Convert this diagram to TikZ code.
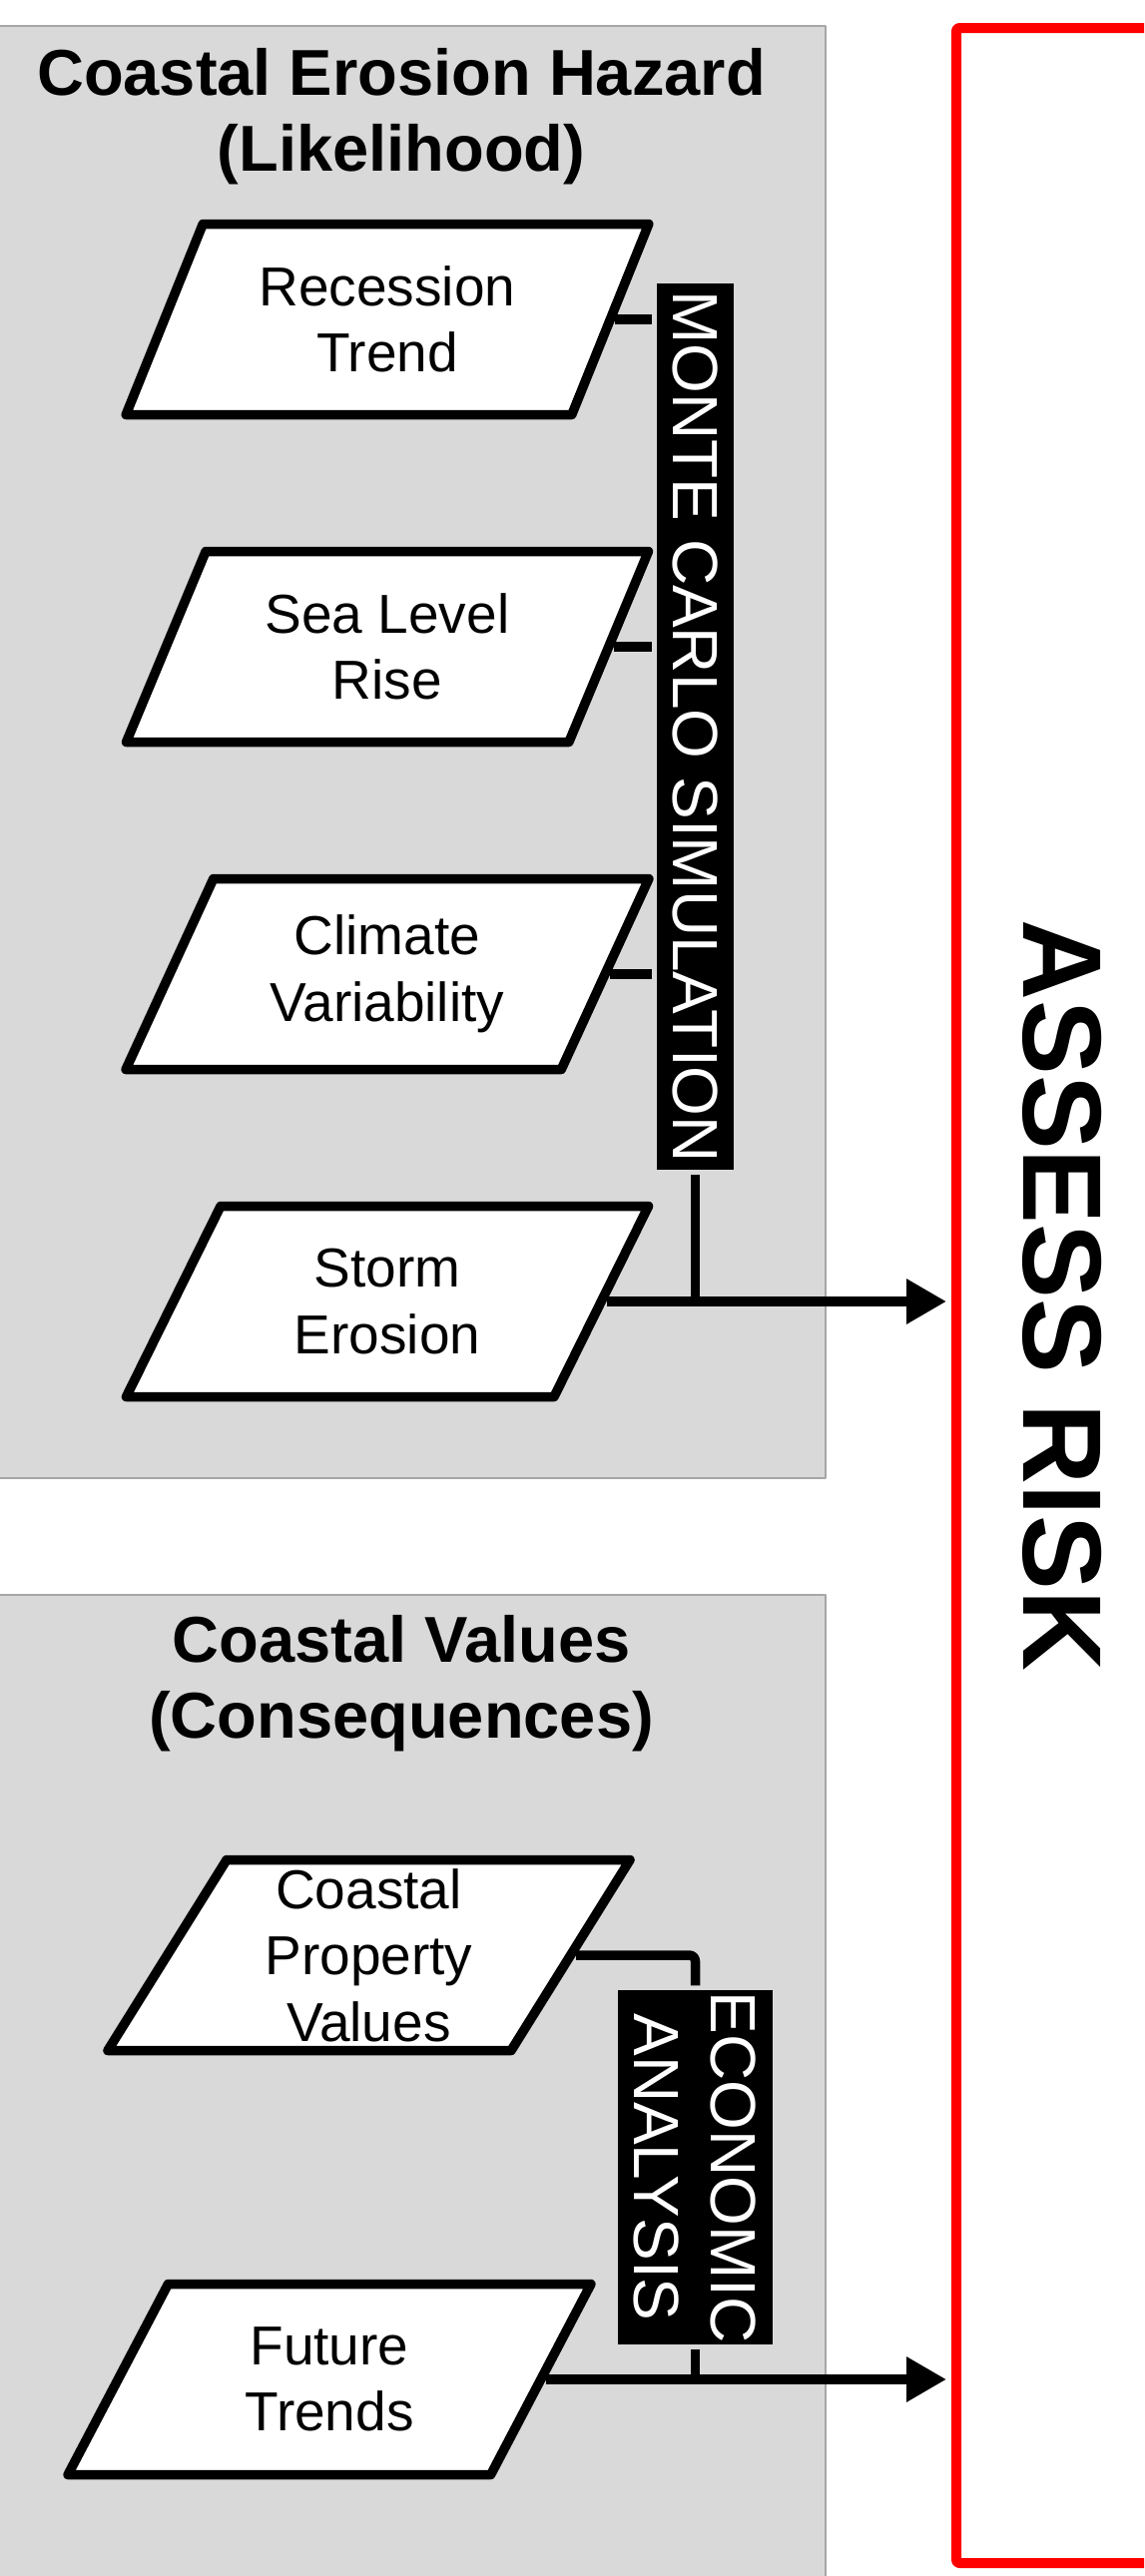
\documentclass[tikz,border=0pt]{standalone}
\usepackage{fontspec}
\setmainfont{Liberation Sans}
\usetikzlibrary{shapes.geometric,arrows.meta}
\definecolor{panelgrey}{HTML}{D9D9D9}
\definecolor{panelline}{HTML}{A6A6A6}

\begin{document}
\begin{tikzpicture}[x=0.5pt, y=0.5pt, node distance=164pt,
                    line width=4.75pt, line join=round,
                    panel/.style={fill=panelgrey, draw=panelline, line width=0.8pt},
                    heading/.style={anchor=north, align=center, inner sep=0pt,
                                    font=\fontsize{32.5}{38}\selectfont\bfseries},
                    data node/.style={trapezium, trapezium left angle=63.4,
                                      trapezium right angle=116.6, trapezium stretches=true,
                                      draw, fill=white, minimum width=262pt, minimum height=95.5pt,
                                      inner sep=0pt, align=center,
                                      font=\fontsize{27.5}{33.25}\selectfont},
                    method node/.style={fill=black, text=white, rotate=-90, inner sep=0pt,
                                        align=center, font=\fontsize{32}{38.5}\selectfont},
                    risk node/.style={draw=red, line width=5pt, rounded corners=1.5pt, rotate=-90,
                                      minimum width=1270pt, minimum height=106pt,
                                      font=\fontsize{56}{60}\selectfont\bfseries},
                    feed/.style={-{Triangle[length=20pt,width=21.5pt]}, shorten >=2.5pt}]

  \useasboundingbox (0,0) rectangle (1146,-2581);
  \clip (0,0) rectangle (1146,-2581);

  \draw[panel] (-22,-26) rectangle (827,-1481);
  \draw[panel] (-22,-1598) rectangle (827,-2600);

  \node[heading] (hazard) at (402,-44) {Coastal Erosion Hazard\\(Likelihood)};
  \node[heading] (values) at (402,-1614) {Coastal Values\\(Consequences)};

  \node[data node] (rec) at (388,-320) {Recession\\Trend};
  \node[data node] (slr) [below of=rec] {Sea Level\\Rise};
  \node[data node] (cv)  [below of=slr] {Climate\\Variability};
  \node[data node] (se)  [below of=cv] {Storm\\Erosion};

  \node[data node] (cpv) at (369.5,-1959) {Coastal\\Property\\Values};
  \node[data node] (ft)  at (330,-2384) {Future\\Trends};

  \node[method node, minimum width=444pt, minimum height=38.5pt] (mcs) at (696.5,-728)
    {MONTE CARLO SIMULATION};
  \node[method node, minimum width=177.5pt, minimum height=77.5pt] (ea) at (696.5,-2171.5)
    {ECONOMIC\\ANALYSIS};

  \node[risk node] (risk) at (1064,-1298) {ASSESS RISK};

  \path
    (rec.right side) edge (rec.right side -| mcs.south)
    (slr.right side) edge (slr.right side -| mcs.south)
    (cv.right side)  edge (cv.right side -| mcs.south)
    (mcs.east)       edge (mcs.east |- se.right side)
    (ea.east)        edge (ea.east |- ft.right side);
  \draw[rounded corners=3pt] (cpv.right side) -| (ea.west);
  \draw[feed] (se.right side) -- (se.right side -| risk.south);
  \draw[feed] (ft.right side) -- (ft.right side -| risk.south);
\end{tikzpicture}
\end{document}
